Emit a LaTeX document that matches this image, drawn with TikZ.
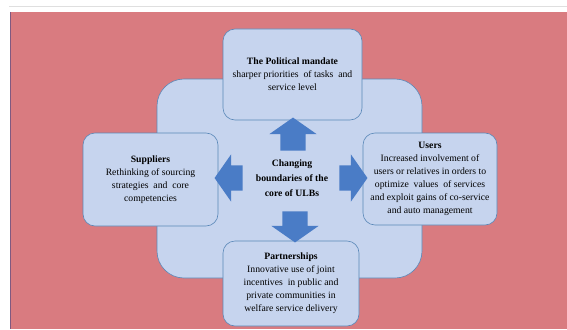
\documentclass[tikz,border=0pt]{standalone}
\usepackage{fontspec}
\setmainfont{Liberation Serif}
\usetikzlibrary{shapes.arrows}
\definecolor{bgred}{HTML}{D97B80}
\definecolor{paleblue}{HTML}{C6D4EE}
\definecolor{edgeblue}{HTML}{5A88B8}
\definecolor{arrowblue}{HTML}{4A7CC6}
\tikzset{
    hub/.style={draw=edgeblue, fill=paleblue, rounded corners=27pt, line width=0.6pt,
        minimum width=265pt, minimum height=199pt},
    panel/.style={draw=edgeblue, fill=paleblue, rounded corners=12pt, line width=0.6pt,
        align=center, inner sep=2pt, font=\fontsize{9.7}{13}\selectfont},
    push/.style={single arrow, fill=arrowblue, minimum width=47pt,
        inner xsep=0pt, inner ysep=12.5pt,
        single arrow head extend=11pt, single arrow tip angle=110},
    hubtxt/.style={align=center, font=\fontsize{9.7}{15}\selectfont\bfseries},
}

\begin{document}
\begin{tikzpicture}[x=1pt, y=-1pt]
        \useasboundingbox (0,0) rectangle (567,329);
        % Background
        \fill[white] (0,0) rectangle (567,329);
        \draw[gray!25, line width=1pt] (9,7) -- (567,7);
        \fill[bgred] (10,12) rectangle (567,329);
        \draw[violet!30!gray, line width=0.8pt] (10,12) -- (10,329);

        % Core
        \node[hub] (core) at (289.5,178.5) {};

        % Panels
        \node[panel, minimum width=139pt, minimum height=91pt] (pol) at (292.5,74.5)
            {\textbf{The Political mandate}\\ sharper priorities\ \ of tasks\ \ and\\ service level};
        \node[panel, minimum width=135pt, minimum height=93pt] (sup) at (150.5,179.5)
            {\textbf{Suppliers}\\ Rethinking of sourcing\\ strategies\ \ and\ \ core\\ competencies};
        \node[panel, minimum width=134pt, minimum height=92pt] (usr) at (430,179)
            {\textbf{Users}\\ Increased involvement of\\ users or relatives in orders to\\
            optimize\ \ values\ \ of services\\ and exploit gains of co-service\\ and auto management};
        \node[panel, minimum width=136pt, minimum height=85pt] (par) at (291,283.5)
            {\textbf{Partnerships}\\ Innovative use of joint\\ incentives\ \ in public and\\
            private communities in\\ welfare service delivery};

        % Arrows
        \node[push, minimum height=33pt, rotate=90] (aup) at (293,138.5) {};
        \node[push, minimum height=31pt, rotate=-90] (adown) at (295,222.5) {};
        \node[push, minimum height=28pt, rotate=180] (aleft) at (233,178) {};
        \node[push, minimum height=28pt] (aright) at (349,178) {};

        \node[hubtxt] (chg) at (292,178) {Changing\\ boundaries of the\\ core of ULBs};
    \end{tikzpicture}
\end{document}
